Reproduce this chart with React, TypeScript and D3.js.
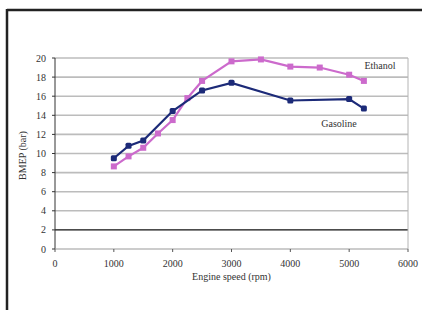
import * as d3 from 'd3';

const gasRpm = [1000, 1250, 1500, 2000, 2500, 3000, 4000, 5000, 5250];
const gasBmep = [9.5, 10.8, 11.35, 14.45, 16.6, 17.4, 15.55, 15.7, 14.7];

const ethRpm = [1000, 1250, 1500, 1750, 2000, 2250, 2500, 3000, 3500, 4000, 4500, 5000, 5250];
const ethBmep = [8.65, 9.7, 10.6, 12.1, 13.5, 15.8, 17.6, 19.65, 19.85, 19.1, 19.0, 18.25, 17.6];

const xTicks = [0, 1000, 2000, 3000, 4000, 5000, 6000];
const yTicks = [0, 2, 4, 6, 8, 10, 12, 14, 16, 18, 20];

const W = 422;
const H = 310;
const margin = { top: 58, right: 14, bottom: 61, left: 55 };
const font = '"Liberation Serif", "DejaVu Serif", serif';

export default function App() {
  const x = d3.scaleLinear().domain([0, 6000]).range([margin.left, W - margin.right]);
  const y = d3.scaleLinear().domain([0, 20]).range([H - margin.bottom, margin.top]);

  const gas = gasRpm.map((r, i) => [r, gasBmep[i]] as [number, number]);
  const eth = ethRpm.map((r, i) => [r, ethBmep[i]] as [number, number]);

  const line = d3.line<[number, number]>()
    .x(d => x(d[0]))
    .y(d => y(d[1]));

  const gasColor = '#1c2a78';
  const ethColor = '#cc6acc';

  return (
    <svg width={W} height={H} style={{ position: 'absolute', left: 0, top: 0, background: '#fff' }}>
      {/* frame */}
      <line x1={7} x2={W} y1={10} y2={10} stroke="#222" strokeWidth={2.5} />
      <line x1={7} x2={7} y1={9} y2={H} stroke="#222" strokeWidth={2.5} />

      {/* gridlines */}
      {yTicks.filter(t => t > 0).map(t => (
        <line key={t} x1={x(0)} x2={x(6000)} y1={y(t)} y2={y(t)}
          stroke={t === 2 ? '#111' : '#bcbcbc'} strokeWidth={t === 2 ? 1.3 : 1.6} />
      ))}
      <line x1={x(6000)} x2={x(6000)} y1={y(20)} y2={y(0)} stroke="#b4b4b4" strokeWidth={1} />

      {/* axes */}
      <line x1={x(0)} x2={x(0)} y1={y(20)} y2={y(0)} stroke="#333" strokeWidth={1} />
      <line x1={x(0)} x2={x(6000)} y1={y(0)} y2={y(0)} stroke="#999" strokeWidth={1} />
      {yTicks.map(t => (
        <g key={t}>
          <line x1={x(0) - 3} x2={x(0)} y1={y(t)} y2={y(t)} stroke="#333" />
          <text x={x(0) - 9} y={y(t)} dy="0.35em" textAnchor="end" fontSize={10} fontFamily={font} fill="#333">{t}</text>
        </g>
      ))}
      {xTicks.map(t => (
        <g key={t}>
          <line x1={x(t)} x2={x(t)} y1={y(0)} y2={y(0) + 3} stroke="#555" />
          <text x={x(t)} y={y(0) + 18} textAnchor="middle" fontSize={10} fontFamily={font} fill="#333">{t}</text>
        </g>
      ))}

      <text x={(x(0) + x(6000)) / 2} y={280} textAnchor="middle" fontSize={10} fontFamily={font} fill="#333">Engine speed (rpm)</text>
      <text transform={`translate(26,${(y(0) + y(20)) / 2 + 2}) rotate(-90)`} textAnchor="middle" fontSize={10} fontFamily={font} fill="#333">BMEP (bar)</text>

      {/* series */}
      <path d={line(eth) || ''} fill="none" stroke={ethColor} strokeWidth={2.2} />
      {eth.map((d, i) => (
        <rect key={i} x={x(d[0]) - 3} y={y(d[1]) - 3} width={6} height={6} fill={ethColor} />
      ))}
      <path d={line(gas) || ''} fill="none" stroke={gasColor} strokeWidth={2.2} />
      {gas.map((d, i) => (
        <rect key={i} x={x(d[0]) - 3} y={y(d[1]) - 3} width={6} height={6} fill={gasColor} rx={1.5} />
      ))}

      <text x={380} y={69} textAnchor="middle" fontSize={10} fontFamily={font} fill="#333">Ethanol</text>
      <text x={339} y={127} textAnchor="middle" fontSize={10} fontFamily={font} fill="#333">Gasoline</text>
    </svg>
  );
}
